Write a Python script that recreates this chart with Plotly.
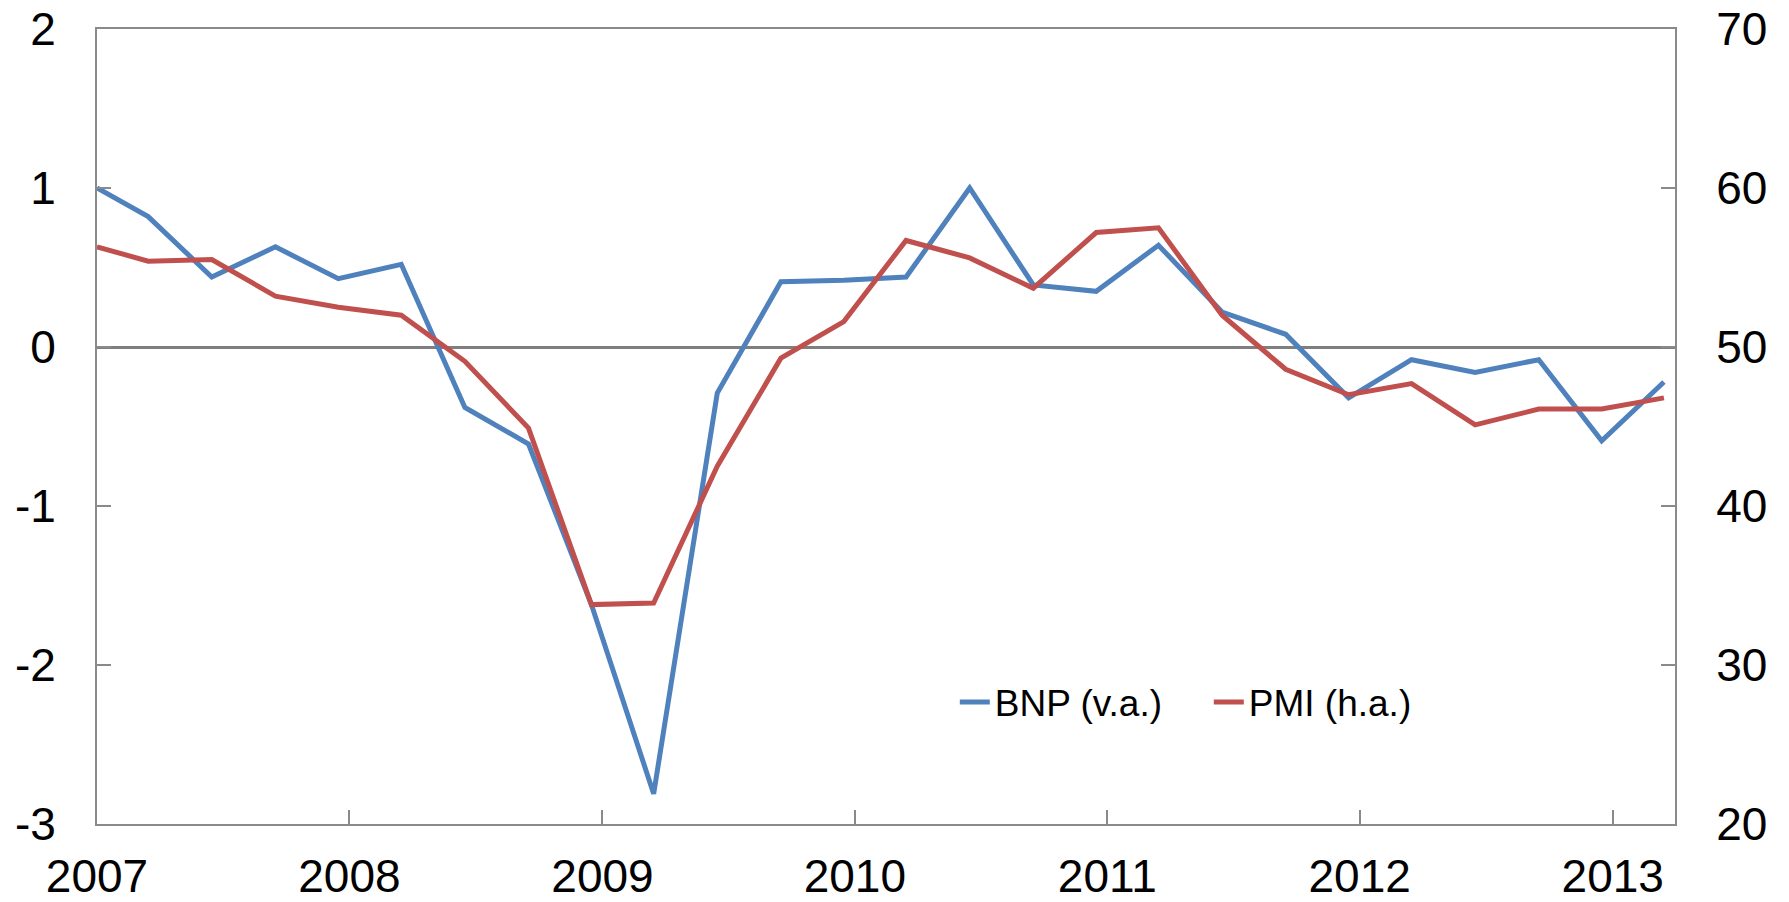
import plotly.graph_objects as go

# quarterly observations (first point sits on the axis start)
dates = ["2007-01-01", "2007-03-16", "2007-06-16", "2007-09-16", "2007-12-16",
         "2008-03-16", "2008-06-16", "2008-09-16", "2008-12-16",
         "2009-03-16", "2009-06-16", "2009-09-16", "2009-12-16",
         "2010-03-16", "2010-06-16", "2010-09-16", "2010-12-16",
         "2011-03-16", "2011-06-16", "2011-09-16", "2011-12-16",
         "2012-03-16", "2012-06-16", "2012-09-16", "2012-12-16",
         "2013-03-16"]

bnp = [1.00, 0.82, 0.44, 0.63, 0.43,
       0.52, -0.38, -0.61, -1.62,
       -2.81, -0.29, 0.41, 0.42,
       0.44, 1.00, 0.39, 0.35,
       0.64, 0.22, 0.08, -0.32,
       -0.08, -0.16, -0.08, -0.59,
       -0.22]

pmi = [56.3, 55.4, 55.5, 53.2, 52.5,
       52.0, 49.1, 44.9, 33.8,
       33.9, 42.5, 49.3, 51.6,
       56.7, 55.6, 53.7, 57.2,
       57.5, 52.0, 48.6, 47.0,
       47.7, 45.1, 46.1, 46.1,
       46.8]

left_ticks = [-3, -2, -1, 0, 1, 2]
left_labels = ["-3", "-2", "-1", "0", "1", "2"]
right_ticks = [20, 30, 40, 50, 60, 70]

axis_grey = "#8a8a8a"
font = dict(family="Liberation Sans, Arial, sans-serif", size=46, color="black")

fig = go.Figure()
fig.add_trace(go.Scatter(x=dates, y=bnp, name="BNP (v.a.)", mode="lines",
                         line=dict(color="#4F81BD", width=5)))
fig.add_trace(go.Scatter(x=dates, y=pmi, name="PMI (h.a.)", mode="lines", yaxis="y2",
                         line=dict(color="#C0504D", width=5)))

fig.update_layout(
    width=1789, height=902,
    margin=dict(l=97, r=114, t=29, b=78),
    paper_bgcolor="white", plot_bgcolor="white",
    font=font,
    showlegend=True,
    legend=dict(orientation="h", x=0.5436, y=0.153, xanchor="left", yanchor="middle",
                font=dict(size=37), bgcolor="rgba(0,0,0,0)", entrywidth=209,
                entrywidthmode="pixels"),
    xaxis=dict(type="date", range=["2007-01-01", "2013-04-01"],
               tick0="2007-01-01", dtick="M12", tickformat="%Y",
               ticks="inside", ticklen=14, tickcolor=axis_grey, tickwidth=1.5,
               showline=True, linecolor=axis_grey, linewidth=2, mirror=True,
               showgrid=False, zeroline=False, ticklabelstandoff=11,
               automargin=False),
    yaxis=dict(range=[-3, 2], tickvals=left_ticks, ticktext=left_labels,
               ticks="inside", ticklen=14, tickcolor=axis_grey, tickwidth=1.5,
               showline=True, linecolor=axis_grey, linewidth=2,
               showgrid=False, zeroline=True, zerolinecolor="#7f7f7f", zerolinewidth=3,
               ticklabelstandoff=30, automargin=False),
    yaxis2=dict(range=[20, 70], tickvals=right_ticks, overlaying="y", side="right",
                ticks="inside", ticklen=14, tickcolor=axis_grey, tickwidth=1.5,
                showline=True, linecolor=axis_grey, linewidth=2,
                showgrid=False, zeroline=False, ticklabelstandoff=30,
                automargin=False),
)

# drop the default 8px body margin so the figure fills the window exactly
fig.write_html("out.html", config={"displayModeBar": False},
               post_script="document.body.style.margin = '0';")
